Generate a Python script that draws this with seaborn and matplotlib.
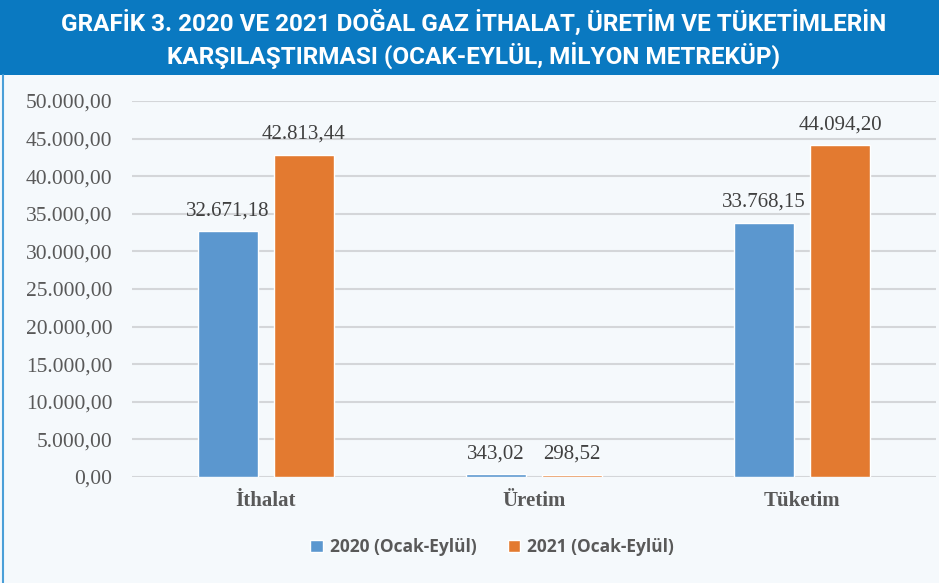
import matplotlib
matplotlib.use('Agg')
import matplotlib.pyplot as plt
from matplotlib.patches import Rectangle
from matplotlib.lines import Line2D
import seaborn as sns
import pandas as pd

# Data
categories = ['İthalat', 'Üretim', 'Tüketim']
series_names = ['2020 (Ocak-Eylül)', '2021 (Ocak-Eylül)']
values_2020 = [32671.18, 343.02, 33768.15]
values_2021 = [42813.44, 298.52, 44094.20]
y_ticks = [0, 5000, 10000, 15000, 20000, 25000, 30000, 35000, 40000, 45000, 50000]
title = ('GRAFİK 3. 2020 VE 2021 DOĞAL GAZ İTHALAT, ÜRETİM VE TÜKETİMLERİN\n'
         'KARŞILAŞTIRMASI (OCAK-EYLÜL, MİLYON METREKÜP)')

df = pd.DataFrame({
    'kategori': categories * 2,
    'seri': [series_names[0]] * 3 + [series_names[1]] * 3,
    'deger': values_2020 + values_2021,
})

def tr_fmt(v):
    return f'{v:,.2f}'.replace(',', '#').replace('.', ',').replace('#', '.')

sns.set_style('white')
bg = '#f5f9fc'
fig = plt.figure(figsize=(9.39, 5.83), dpi=100, facecolor=bg)
ax = fig.add_axes([132 / 939, 1 - 477 / 583, (936 - 132) / 939, (477 - 101) / 583])
ax.set_facecolor(bg)

palette = {series_names[0]: '#5b97cf', series_names[1]: '#e37a30'}
sns.barplot(data=df, x='kategori', y='deger', hue='seri', palette=palette,
            width=0.567, gap=0.21, saturation=1, ax=ax, zorder=3)

ax.set_ylim(0, 50000)
ax.set_xlim(-0.5, 2.5)
ax.set_yticks(y_ticks)
ax.set_yticklabels([tr_fmt(t) for t in y_ticks], family='Liberation Serif',
                   fontsize=15.5, color='#595959')
ax.set_xticks(range(len(categories)))
ax.set_xticklabels(categories, family='Liberation Serif', fontsize=15,
                   fontweight='bold', color='#595959')
ax.tick_params(axis='both', length=0)
ax.tick_params(axis='y', pad=14)
ax.tick_params(axis='x', pad=10)
ax.set_xlabel('')
ax.set_ylabel('')
ax.yaxis.grid(True, color='#d4d6d9', linewidth=1.5, zorder=0)
ax.set_axisbelow(True)
for s in ax.spines.values():
    s.set_visible(False)

# value labels above bars
for cont in ax.containers:
    for bar in cont:
        h = bar.get_height()
        ax.annotate(tr_fmt(h), (bar.get_x() + bar.get_width() / 2, h),
                    xytext=(0, 8), textcoords='offset points', ha='center',
                    va='bottom', family='Liberation Serif', fontsize=15,
                    color='#404040')

handles, labels = ax.get_legend_handles_labels()
ax.legend_.remove()
fig.legend(handles, labels, loc='center', bbox_to_anchor=(492 / 939, 1 - 547 / 583),
           ncol=2, frameon=False, handlelength=0.7, handleheight=0.7,
           handletextpad=0.4, columnspacing=1.8,
           prop={'family': ['Open Sans', 'DejaVu Sans'], 'weight': 'bold', 'size': 12.5},
           labelcolor='#595959')

# title banner
fig.add_artist(Rectangle((0, 1 - 75 / 583), 1, 75 / 583, transform=fig.transFigure,
                         facecolor='#0a79c1', edgecolor='none', zorder=0))
fig.text(474 / 939, 1 - 39 / 583, title, ha='center', va='center', color='white',
         family=['Roboto', 'DejaVu Sans'], fontweight='bold',
         fontsize=17.5, linespacing=1.28)
fig.add_artist(Line2D([3 / 939, 3 / 939], [0, 1 - 75 / 583], transform=fig.transFigure,
                      color='#4a9fd8', linewidth=1.5))

plt.savefig('out.png', dpi=100, facecolor=bg)
plt.close()
